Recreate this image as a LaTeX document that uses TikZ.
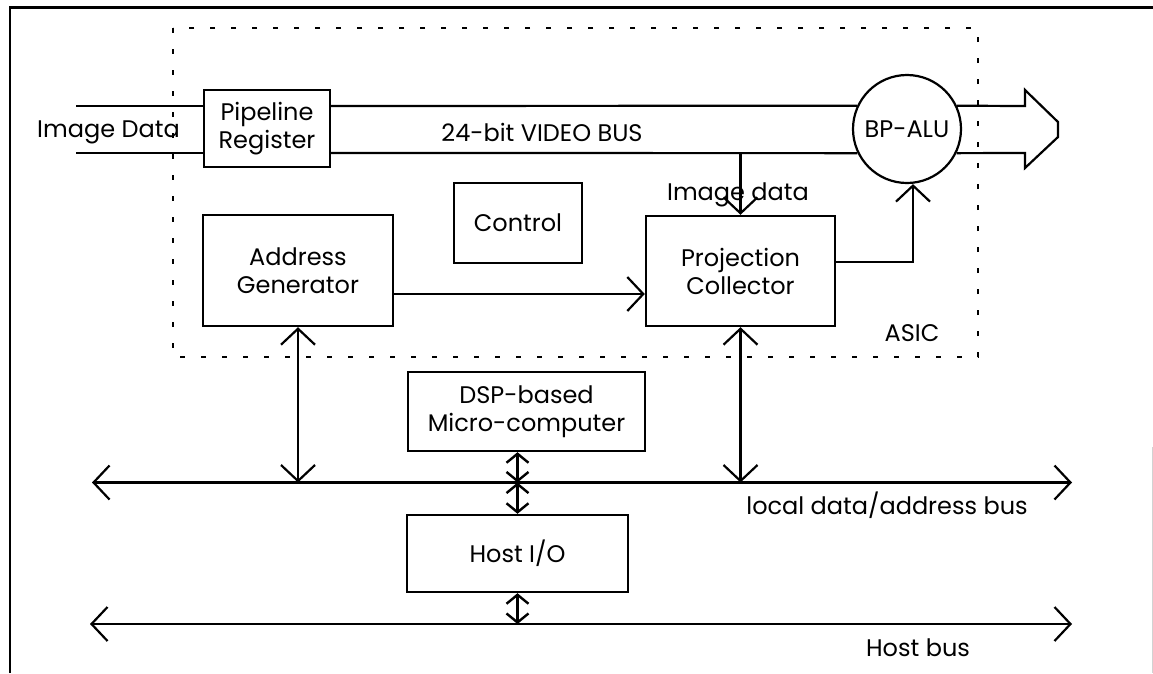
\documentclass[tikz,border=0pt]{standalone}
\usepackage{fontspec}
\setmainfont{Poppins}
\usetikzlibrary{arrows.meta}

\tikzset{
  every node/.style={font=\fontsize{24}{28}\selectfont},
  blk/.style={draw, line width=2.4pt, inner sep=0pt, align=center},
  wire/.style={line width=2.2pt},
  barb/.style={Straight Barb[length=16pt,width=34pt,line width=2.2pt]},
  bigboth/.style={wire, arrows={Straight Barb[length=16pt,width=34pt,line width=2.2pt]-Straight Barb[length=16pt,width=34pt,line width=2.2pt]}},
  bigto/.style={wire, arrows={-Straight Barb[length=16pt,width=34pt,line width=2.2pt]}},
  sml/.style={line width=2.8pt, arrows={Straight Barb[length=9pt,width=22pt,line width=2.4pt]-Straight Barb[length=9pt,width=22pt,line width=2.4pt]}},
  asic/.style={line width=1.8pt, dash pattern=on 5pt off 16pt},
  lbl/.style={anchor=base, inner sep=0pt}
}

\begin{document}
\begin{tikzpicture}[x=1pt, y=-1pt]
  \useasboundingbox (0,0) rectangle (1153,673);

  % page frame
  \draw[line width=2.4pt] (10,673) -- (10,7.5) -- (1153,7.5);
  \draw[gray!35, line width=0.8pt] (1152,447) -- (1152,673);

  % ASIC outline
  \draw[asic] (173,28) rectangle (978,357);
  \node[lbl] (asiclbl) at (912,341.5) {ASIC};

  % blocks
  \node[blk, minimum width=126pt, minimum height=77pt] (preg) at (267,128.5) {Pipeline\\Register};
  \node[blk, minimum width=128pt, minimum height=80pt] (ctrl) at (518,223) {Control};
  \node[blk, minimum width=190pt, minimum height=111pt] (addr) at (298,270.5) {Address\\Generator};
  \node[blk, minimum width=189pt, minimum height=110pt] (proj) at (740.5,271) {Projection\\Collector};
  \node[blk, minimum width=237pt, minimum height=79pt] (dsp) at (526.5,411.5) {DSP-based\\Micro-computer};
  \node[blk, minimum width=221pt, minimum height=77pt] (hio) at (517.5,553.5) {Host I/O};
  \node[draw, circle, line width=2.2pt, minimum size=108pt, inner sep=0pt] (alu) at (907,129) {BP-ALU};

  % 24-bit video bus
  \coordinate (vtop) at (0,106);
  \coordinate (vbot) at (0,153);
  \draw[wire] (76,106) -- (vtop -| preg.west);
  \draw[wire] (76,153) -- (vbot -| preg.west);
  \draw[wire] (vtop -| preg.east) -- (alu.155);
  \draw[wire] (vbot -| preg.east) -- (alu.206);
  \node[lbl] (imgin) at (108.5,137) {Image Data};
  \node[lbl] (vbus) at (542,141.5) {24-bit VIDEO BUS};

  % hollow output arrow
  \coordinate (oa1) at (1025,106);
  \coordinate (oa2) at (1025,90);
  \coordinate (oa3) at (1058,122);
  \coordinate (oa4) at (1058,137);
  \coordinate (oa5) at (1025,168);
  \coordinate (oa6) at (1025,153);
  \draw[wire, line join=miter] (alu.25) -- (oa1) -- (oa2) -- (oa3) -- (oa4) -- (oa5) -- (oa6) -- (alu.-26);

  % image data tap into the projection collector
  \draw[bigto] (vbot -| proj.north) -- (proj.north);
  \node[lbl] (imgtap) at (738,200.5) {Image data};

  % address generator to projection collector
  \draw[bigto] ([yshift=-23.5pt]addr.east) -- ([yshift=-23.5pt]addr.east -| proj.west);

  % projection collector to BP-ALU
  \coordinate (pcout) at ([yshift=9pt]proj.east);
  \draw[bigto] (pcout) -| ([xshift=6pt]alu.south);

  % buses
  \coordinate (lbL) at (92,482.5);
  \coordinate (lbR) at (1072,482.5);
  \coordinate (hbL) at (90,624);
  \coordinate (hbR) at (1072,624);
  \draw[bigboth] (lbL) -- (lbR);
  \draw[bigboth] (hbL) -- (hbR);
  \node[lbl] (lblbus) at (887,514) {local data/address bus};
  \node[lbl] (hblbus) at (918,656.5) {Host bus};

  % bus connections
  \draw[bigboth] (addr.south) -- (addr.south |- lbL);
  \draw[bigboth] (proj.south) -- (proj.south |- lbL);
  \draw[sml] (hio.north |- dsp.south) -- (hio.north |- lbL);
  \draw[sml] (hio.north |- lbL) -- (hio.north);
  \draw[sml] (hio.south) -- (hio.south |- hbL);
\end{tikzpicture}
\end{document}
